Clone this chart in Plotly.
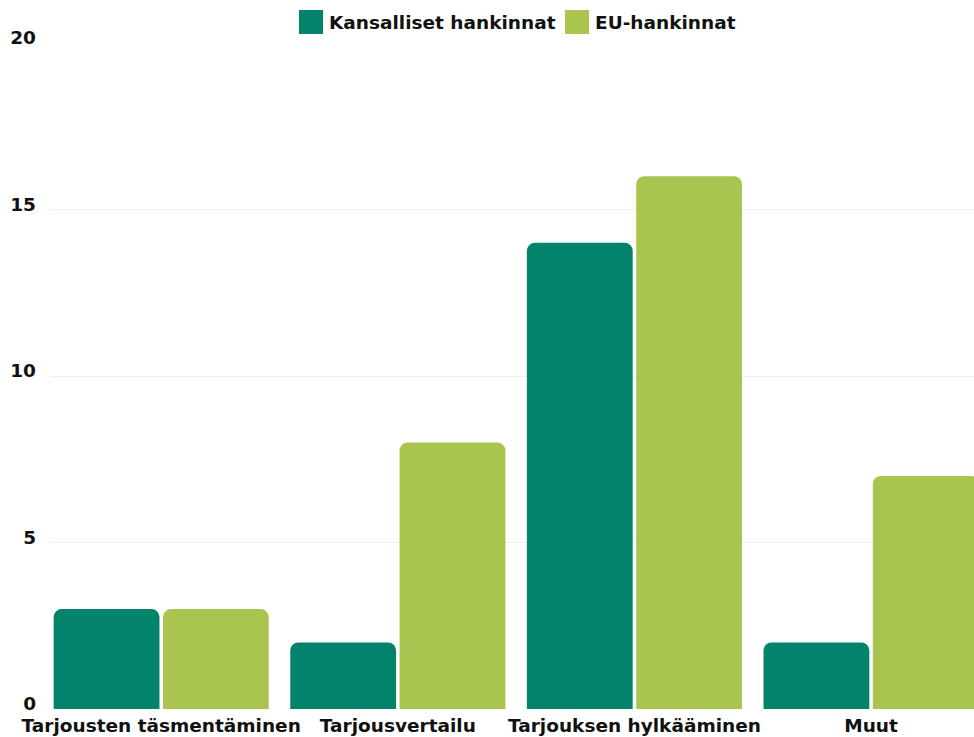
import plotly.graph_objects as go

categories = ["Tarjousten täsmentäminen", "Tarjousvertailu", "Tarjouksen hylkääminen", "Muut"]
kansalliset = [3, 2, 14, 2]
eu = [3, 8, 16, 7]
series_names = ["Kansalliset hankinnat", "EU-hankinnat"]
colors = ["#03836B", "#A9C54F"]
y_ticks = [0, 5, 10, 15, 20]

FONT = "DejaVu Sans"
FS = 18.5
W, H = 974, 737
ML, MR, MT, MB = 50, 0, 43, 28
PW, PH = W - ML - MR, H - MT - MB


def px_x(p):
    return (p - ML) / PW


def px_y(p):
    return (H - MB - p) / PH


fig = go.Figure()
for name, vals, col in zip(series_names, [kansalliset, eu], colors):
    fig.add_trace(go.Bar(x=list(range(len(categories))), y=vals, name=name,
                         marker=dict(color=col, line=dict(width=0)),
                         showlegend=False, hoverinfo="y"))

# legend drawn as swatches + real text labels
legend_swatch_left = [299, 565]
for name, col, sx in zip(series_names, colors, legend_swatch_left):
    fig.add_shape(type="rect", xref="paper", yref="paper",
                  x0=px_x(sx), x1=px_x(sx + 24), y0=px_y(34), y1=px_y(10),
                  fillcolor=col, line=dict(width=0))
    fig.add_annotation(xref="paper", yref="paper", x=px_x(sx + 28), y=px_y(22),
                       xanchor="left", yanchor="middle", showarrow=False,
                       text=name, font=dict(family=FONT, size=FS, color="#111111", weight=700))

fig.update_layout(
    width=W, height=H,
    margin=dict(l=ML, r=MR, t=MT, b=MB),
    paper_bgcolor="white", plot_bgcolor="white",
    barmode="group", bargap=0.076, bargroupgap=0.032,
    barcornerradius=8,
    showlegend=False,
    font=dict(family=FONT, size=FS, color="#111111", weight=700),
    xaxis=dict(range=[-0.47, 3.435], tickmode="array",
               tickvals=list(range(len(categories))), ticktext=categories,
               showgrid=False, zeroline=False, showline=False, ticks="",
               ticklabelstandoff=3,
               automargin=False, tickfont=dict(family=FONT, size=FS, weight=700, color="#111111")),
    yaxis=dict(range=[0, 20], tickmode="array", tickvals=y_ticks,
               showgrid=True, gridcolor="#EEEEEE", gridwidth=1,
               zeroline=False, showline=False, ticks="", ticklabelstandoff=13,
               ticklabelshift=-5,
               automargin=False, tickfont=dict(family=FONT, size=FS, weight=700, color="#111111")),
)

fig.write_html("out.html")
